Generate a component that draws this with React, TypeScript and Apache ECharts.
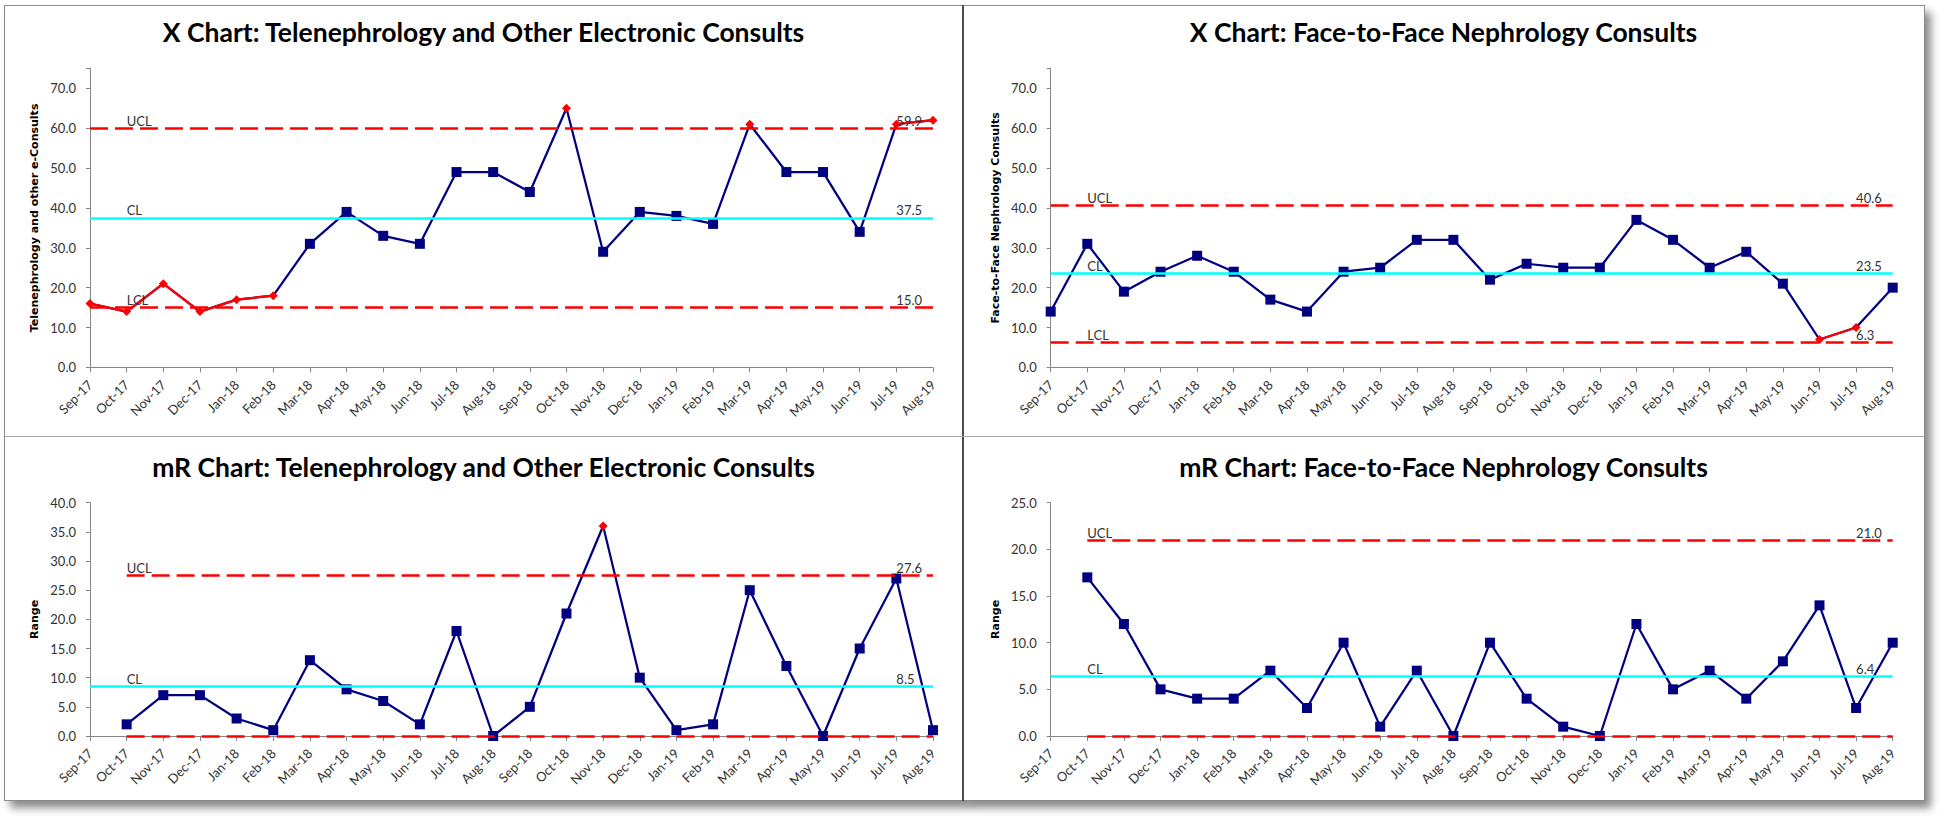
import React, { useEffect, useRef } from 'react';
import * as echarts from 'echarts';

const months = ['Sep-17','Oct-17','Nov-17','Dec-17','Jan-18','Feb-18','Mar-18','Apr-18','May-18','Jun-18','Jul-18','Aug-18','Sep-18','Oct-18','Nov-18','Dec-18','Jan-19','Feb-19','Mar-19','Apr-19','May-19','Jun-19','Jul-19','Aug-19'];

// Telenephrology and other e-consults
const teleX = [16,14,21,14,17,18,31,39,33,31,49,49,44,65,29,39,38,36,61,49,49,34,61,62];
const teleXSignal = [1,1,1,1,1,1,0,0,0,0,0,0,0,1,0,0,0,0,1,0,0,0,1,1];
const teleXLimits = [59.9, 37.5, 15.0];
const teleMR = [null,2,7,7,3,1,13,8,6,2,18,0,5,21,36,10,1,2,25,12,0,15,27,1];
const teleMRSignal = [0,0,0,0,0,0,0,0,0,0,0,0,0,0,1,0,0,0,0,0,0,0,0,0];
const teleMRLimits = [27.6, 8.5, 0];

// Face-to-face nephrology consults
const f2fX = [14,31,19,24,28,24,17,14,24,25,32,32,22,26,25,25,37,32,25,29,21,7,10,20];
const f2fXSignal = [0,0,0,0,0,0,0,0,0,0,0,0,0,0,0,0,0,0,0,0,0,1,1,0];
const f2fXLimits = [40.6, 23.5, 6.3];
const f2fMR = [null,17,12,5,4,4,7,3,10,1,7,0,10,4,1,0,12,5,7,4,8,14,3,10];
const f2fMRSignal = [0,0,0,0,0,0,0,0,0,0,0,0,0,0,0,0,0,0,0,0,0,0,0,0];
const f2fMRLimits = [21.0, 6.4, 0];

const xChartTicks = [0, 10, 20, 30, 40, 50, 60, 70];
const teleMRTicks = [0, 5, 10, 15, 20, 25, 30, 35, 40];
const f2fMRTicks = [0, 5, 10, 15, 20, 25];

const limitNames = ['UCL', 'CL', 'LCL'];

const titles = [
  'X Chart: Telenephrology and Other Electronic Consults',
  'X Chart: Face-to-Face Nephrology Consults',
  'mR Chart: Telenephrology and Other Electronic Consults',
  'mR Chart: Face-to-Face Nephrology Consults',
];
const yNames = ['Telenephrology and other e-Consults', 'Face-to-Face Nephrology Consults', 'Range', 'Range'];

const NAVY = '#000080';
const RED = '#FF0000';
const CYAN = '#00FFFF';
const AXIS = '#868686';
const TXT = '#333333';
const TITLE_FONT = "Lato, sans-serif";
const LABEL_FONT = "Lato, 'Open Sans', sans-serif";

const panels = [
  { left: 90, top: 68.4, width: 843, height: 299, max: 75, ticks: xChartTicks, values: teleX, signal: teleXSignal, limits: teleXLimits, mr: false, cx: 483.5, ty: 32 },
  { left: 1050.7, top: 68.4, width: 842, height: 299, max: 75, ticks: xChartTicks, values: f2fX, signal: f2fXSignal, limits: f2fXLimits, mr: false, cx: 1443.5, ty: 32 },
  { left: 90, top: 502.7, width: 843, height: 233.3, max: 40, ticks: teleMRTicks, values: teleMR, signal: teleMRSignal, limits: teleMRLimits, mr: true, cx: 483.5, ty: 467 },
  { left: 1050.7, top: 502.7, width: 842, height: 233.3, max: 25, ticks: f2fMRTicks, values: f2fMR, signal: f2fMRSignal, limits: f2fMRLimits, mr: true, cx: 1443.5, ty: 467 },
];

function buildOption() {
  const grid: any[] = [];
  const xAxis: any[] = [];
  const yAxis: any[] = [];
  const series: any[] = [];
  const graphic: any[] = [];
  const last = months.length - 1;

  panels.forEach((p, i) => {
    grid.push({ left: p.left, top: p.top, width: p.width, height: p.height });
    const step = p.ticks[1] - p.ticks[0];
    const lastTick = p.ticks[p.ticks.length - 1];
    xAxis.push({
      type: 'category', gridIndex: i, data: months, boundaryGap: false,
      axisLine: { show: true, lineStyle: { color: AXIS, width: 1 } },
      axisTick: { show: true, length: 5, lineStyle: { color: AXIS } },
      axisLabel: { rotate: 45, interval: 0, fontSize: 13, color: TXT, fontFamily: LABEL_FONT, margin: 15 },
      splitLine: { show: false },
    });
    yAxis.push({
      type: 'value', gridIndex: i, min: 0, max: p.max, interval: step,
      axisLine: { show: true, lineStyle: { color: AXIS, width: 1 } },
      axisTick: { show: true, length: 4, lineStyle: { color: AXIS } },
      splitLine: { show: false },
      axisLabel: {
        formatter: (v: number) => (v > lastTick + 1e-9 ? '' : v.toFixed(1)),
        fontSize: 13, color: TXT, fontFamily: LABEL_FONT, margin: 14,
      },
      name: yNames[i], nameLocation: 'middle', nameGap: 50,
      nameTextStyle: { fontFamily: 'DejaVu Sans', fontWeight: 'bold', fontSize: 11, color: '#000' },
    });

    const [ucl, cl, lcl] = p.limits;
    const limStart = p.mr ? 1 : 0;
    const dashed = { color: RED, width: 2.6, type: [18, 7] };
    const markLineData: any[] = [
      [{ coord: [limStart, ucl], lineStyle: dashed }, { coord: [last, ucl] }],
      [{ coord: [0, cl], lineStyle: { color: CYAN, width: 2.6, type: 'solid' } }, { coord: [last, cl] }],
      [{ coord: [limStart, lcl], lineStyle: dashed }, { coord: [last, lcl] }],
    ];
    const labelData: any[] = [];
    p.limits.forEach((v, k) => {
      if (p.mr && k === 2) return;
      labelData.push({ coord: [1, v], value: limitNames[k] });
      labelData.push({ coord: [last - 1, v], value: v.toFixed(1) });
    });

    series.push({
      type: 'line', xAxisIndex: i, yAxisIndex: i, data: [], z: 1, silent: true,
      markLine: {
        silent: true, symbol: ['none', 'none'], label: { show: false }, animation: false,
        data: markLineData,
      },
      markPoint: {
        silent: true, symbol: 'circle', symbolSize: 0, animation: false,
        itemStyle: { color: 'transparent' },
        label: {
          show: true, position: [0, -1], align: 'left', verticalAlign: 'bottom',
          formatter: (d: any) => d.value, fontSize: 13, color: TXT, fontFamily: LABEL_FONT,
        },
        data: labelData,
      },
    });

    series.push({
      type: 'line', xAxisIndex: i, yAxisIndex: i, z: 3,
      data: p.values.map((v, k) => (p.signal[k] ? { value: v, symbol: 'none' } : v)),
      symbol: 'rect', symbolSize: 10, showAllSymbol: true,
      itemStyle: { color: NAVY },
      lineStyle: { color: NAVY, width: 2.25 },
    });
    series.push({
      type: 'line', xAxisIndex: i, yAxisIndex: i, z: 4,
      data: p.values.map((v, k) => (p.signal[k] ? v : null)),
      symbol: 'diamond', symbolSize: 9, showAllSymbol: true,
      itemStyle: { color: RED },
      lineStyle: { color: RED, width: 2.25 },
    });

    graphic.push({
      type: 'text', x: p.cx, y: p.ty,
      style: { text: titles[i], align: 'center', verticalAlign: 'middle', fontFamily: TITLE_FONT, fontWeight: 'bold', fontSize: 26.5, fill: '#000' },
    });
  });

  return { animation: false, grid, xAxis, yAxis, series, graphic };
}

export default function App() {
  const ref = useRef<HTMLDivElement>(null);
  useEffect(() => {
    if (!ref.current) return;
    const chart = echarts.init(ref.current, undefined, { renderer: 'svg' });
    chart.setOption(buildOption() as any);
    return () => chart.dispose();
  }, []);

  const frame: React.CSSProperties = {
    position: 'absolute', top: 5, height: 796, boxSizing: 'border-box',
    border: '1.5px solid #8a8a8a', background: '#fff', boxShadow: '6px 7px 8px rgba(0,0,0,0.45)',
  };
  return (
    <div style={{ position: 'absolute', left: 0, top: 0, width: 1946, height: 823, background: '#fff', overflow: 'hidden' }}>
      <div style={{ ...frame, left: 4, width: 960 }} />
      <div style={{ ...frame, left: 963, width: 962 }} />
      <div style={{ position: 'absolute', left: 962, top: 5, width: 2, height: 796, background: '#4d4d4d' }} />
      <div style={{ position: 'absolute', left: 5, top: 436, width: 1919, height: 1, background: '#a6a6a6' }} />
      <div ref={ref} style={{ position: 'absolute', left: 0, top: 0, width: 1946, height: 823 }} />
    </div>
  );
}
